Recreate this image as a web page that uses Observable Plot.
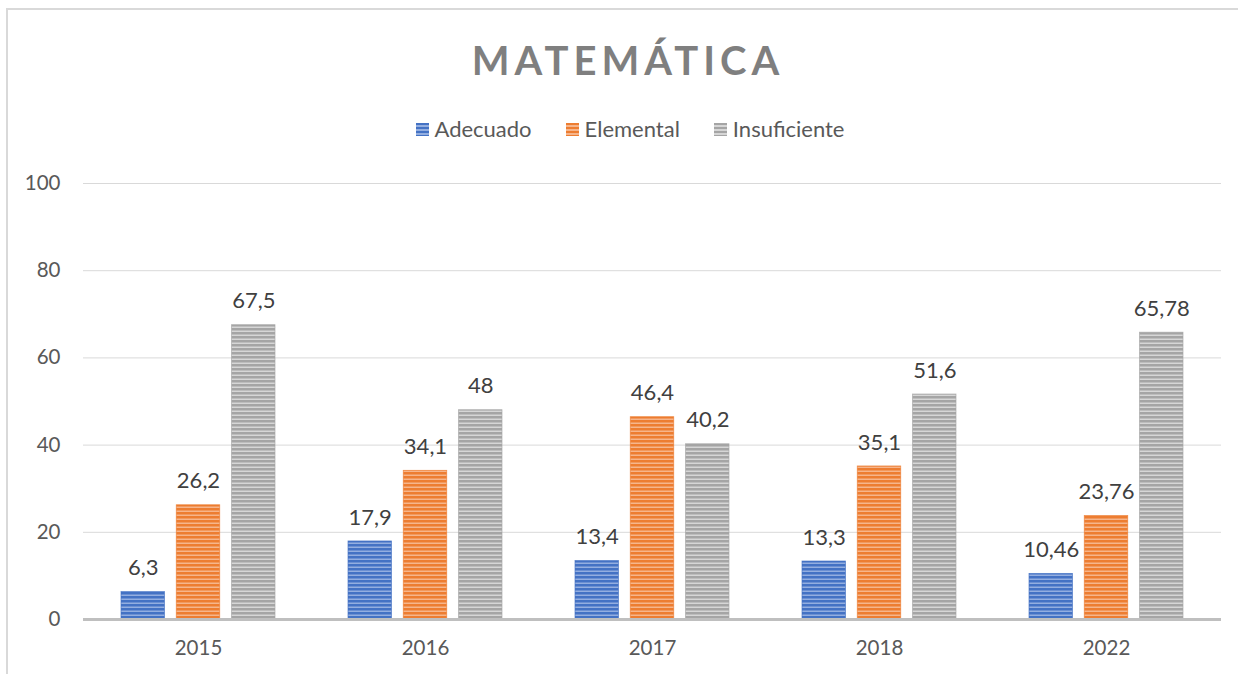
<!DOCTYPE html>
<html>
<head>
<meta charset="utf-8">
<script src="https://cdn.jsdelivr.net/npm/d3@7"></script>
<script src="https://cdn.jsdelivr.net/npm/@observablehq/plot@0.6"></script>
<style>
  html, body { margin: 0; padding: 0; background: #fff; }
  #wrap { position: relative; width: 1238px; height: 674px; overflow: hidden; font-family: Lato, "Open Sans", sans-serif; }
  #frame { position: absolute; left: 6px; top: 8px; width: 1300px; height: 700px; border-left: 2px solid #d9d9d9; border-top: 2px solid #d9d9d9; }
  #title { position: absolute; left: 0; width: 1256px; top: 36px; text-align: center; font-size: 40px; font-weight: bold; letter-spacing: 5px; color: #7f7f7f; line-height: 48px; }
  #legend { position: absolute; left: 0; width: 1260px; top: 116px; display: flex; justify-content: center; gap: 34px; font-size: 22px; color: #595959; line-height: 26px; }
  #legend .item { display: flex; align-items: center; gap: 6px; }
  #legend .sw { width: 13px; height: 13px; }
  #chart { position: absolute; left: 0; top: 160px; }
</style>
</head>
<body>
<div id="wrap">
  <div id="frame"></div>
  <div id="title">MATEMÁTICA</div>
  <div id="legend"></div>
  <div id="chart"></div>
</div>
<script>
const years = ["2015", "2016", "2017", "2018", "2022"];
const seriesNames = ["Adecuado", "Elemental", "Insuficiente"];
const adecuado = [6.3, 17.9, 13.4, 13.3, 10.46];
const elemental = [26.2, 34.1, 46.4, 35.1, 23.76];
const insuficiente = [67.5, 48, 40.2, 51.6, 65.78];
const yTicks = [0, 20, 40, 60, 80, 100];

const baseColors = ["#4472c4", "#ed7d31", "#a5a5a5"];
const lightColors = ["#93aee0", "#f6b58b", "#d6d6d6"];
const patIds = ["pat-a", "pat-e", "pat-i"];

const seriesValues = [adecuado, elemental, insuficiente];
const fmt = v => String(v).replace(".", ",");

// legend
const legend = document.getElementById("legend");
seriesNames.forEach((s, i) => {
  const it = document.createElement("div");
  it.className = "item";
  const sw = document.createElement("div");
  sw.className = "sw";
  sw.style.background = `repeating-linear-gradient(to bottom, ${baseColors[i]} 0px, ${baseColors[i]} 2.5px, ${lightColors[i]} 2.5px, ${lightColors[i]} 4px)`;
  const tx = document.createElement("span");
  tx.textContent = s;
  it.appendChild(sw); it.appendChild(tx);
  legend.appendChild(it);
});

const W = 1238, H = 514;
const mL = 83, mR = 17, mT = 23, mB = 55;
const pInner = 0.32, pOuter = 0.16;
const step = (W - mL - mR) / (years.length - pInner + 2 * pOuter);
const bw = step * (1 - pInner);
const subInner = 0.2;
const subStep = bw / (3 - subInner);
const barW = subStep * (1 - subInner);

const marks = [
  Plot.ruleY(yTicks.filter(d => d > 0), {stroke: "#d9d9d9", strokeWidth: 1})
];
seriesNames.forEach((s, i) => {
  const data = years.map((y, j) => ({year: y, value: seriesValues[i][j]}));
  const insetLeft = i * subStep;
  const insetRight = bw - insetLeft - barW;
  marks.push(Plot.barY(data, {
    x: "year", y: "value",
    fill: `url(#${patIds[i]})`,
    stroke: baseColors[i], strokeWidth: 0.8, strokeOpacity: 0.8,
    insetLeft, insetRight
  }));
  marks.push(Plot.text(data, {
    x: "year", y: "value", text: d => fmt(d.value),
    dx: insetLeft + barW / 2 - bw / 2, dy: -24,
    fontSize: 22, fill: "#404040"
  }));
});
marks.push(Plot.ruleY([0], {stroke: "#bfbfbf", strokeWidth: 3}));

const chart = Plot.plot({
  width: W, height: H,
  marginLeft: mL, marginRight: mR, marginTop: mT, marginBottom: mB,
  style: {fontFamily: "Lato, 'Open Sans', sans-serif", background: "transparent", overflow: "visible"},
  x: {type: "band", domain: years, paddingInner: pInner, paddingOuter: pOuter, label: null},
  y: {domain: [0, 100], label: null},
  marks: [
    ...marks,
    Plot.axisY({ticks: yTicks, tickSize: 0, tickPadding: 23, fontSize: 20.5, fill: "#595959", label: null}),
    Plot.axisX({tickSize: 0, tickPadding: 21, fontSize: 20.5, fill: "#595959", label: null})
  ]
});

// patterns
const svg = d3.select(chart);
const defs = svg.insert("defs", ":first-child");
patIds.forEach((id, i) => {
  const p = defs.append("pattern").attr("id", id).attr("patternUnits", "userSpaceOnUse")
    .attr("width", 8).attr("height", 4);
  p.append("rect").attr("width", 8).attr("height", 4).attr("fill", baseColors[i]);
  p.append("rect").attr("y", 2.5).attr("width", 8).attr("height", 1.5).attr("fill", lightColors[i]);
});

document.getElementById("chart").appendChild(chart);
</script>
</body>
</html>
